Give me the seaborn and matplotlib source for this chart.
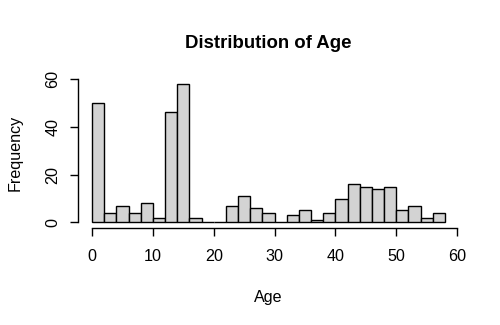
import numpy as np
import pandas as pd
import seaborn as sns
import matplotlib.pyplot as plt

# histogram bins (left edges, width 2) and counts
bin_left = list(range(0, 58, 2))
counts = [50, 4, 7, 4, 8, 2, 46, 58, 2, 0, 0, 7, 11, 6, 4, 0, 3, 5, 1, 4,
          10, 16, 15, 14, 15, 5, 7, 2, 4]
x_ticks = [0, 10, 20, 30, 40, 50, 60]
y_ticks = [0, 20, 40, 60]

df = pd.DataFrame({'age': [b + 1 for b in bin_left], 'n': counts})

sns.set_theme(style="white")
plt.rcParams['font.family'] = ['Liberation Sans', 'DejaVu Sans']
plt.rcParams['text.color'] = 'black'
plt.rcParams['axes.labelcolor'] = 'black'
plt.rcParams['xtick.color'] = 'black'
plt.rcParams['ytick.color'] = 'black'

fig = plt.figure(figsize=(5, 3.25), dpi=100)
ax = fig.add_axes([0.156, 0.2985, 0.762, 0.461])

sns.histplot(data=df, x='age', weights='n', binwidth=2, binrange=(0, 58),
             color='#D3D3D3', edgecolor='black', linewidth=1, alpha=1, ax=ax)

ax.set_xlim(-2.32, 60.32)
ax.set_ylim(-2.32, 60.32)
for s in ['top', 'right']:
    ax.spines[s].set_visible(False)
ax.spines['left'].set_bounds(0, 60)
ax.spines['bottom'].set_bounds(0, 60)
for s in ['left', 'bottom']:
    ax.spines[s].set_color('black')
    ax.spines[s].set_linewidth(1)
ax.set_xticks(x_ticks)
ax.set_yticks(y_ticks)
ax.tick_params(axis='both', which='major', direction='out', length=5.8, width=1,
               labelsize=11.6, bottom=True, left=True)
ax.tick_params(axis='x', pad=9)
ax.tick_params(axis='y', labelrotation=90, pad=7)
for lab in ax.get_yticklabels():
    lab.set_va('center')

ax.set_xlabel('Age', fontsize=11.6, labelpad=19)
ax.set_ylabel('Frequency', fontsize=11.6, labelpad=16)
ax.set_title('Distribution of Age', fontsize=13.4, fontweight='bold', pad=22)

plt.savefig('out.png', dpi=100)
